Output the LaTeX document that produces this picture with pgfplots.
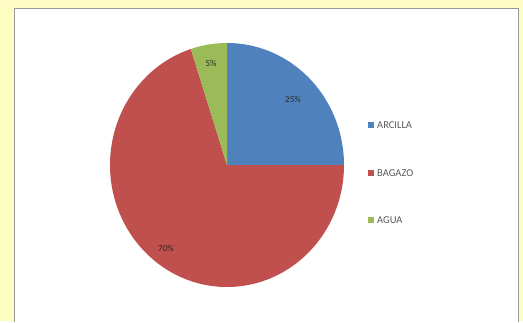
\documentclass[border=0pt]{standalone}
\usepackage{pgfplots}
\pgfplotsset{compat=1.18}
\usepackage{fontspec}
\setmainfont{Carlito}
\definecolor{bgyel}{HTML}{FDFCC2}
\definecolor{cblue}{HTML}{4F81BD}
\definecolor{cred}{HTML}{C0504D}
\definecolor{cgreen}{HTML}{9BBB59}
\definecolor{txt}{HTML}{595959}
\begin{document}
\begin{tikzpicture}[x=1pt,y=1pt]
\fill[bgyel] (0,0) rectangle (523,321);
\fill[white] (14,0) rectangle (518,313);
\draw[black!40, line width=0.7pt] (14,-1) -- (14,313) -- (518,313) -- (518,-1);
\begin{axis}[at={(0,0)}, anchor=south west, scale only axis,
  width=523pt, height=321pt, xmin=0, xmax=523, ymin=0, ymax=321,
  hide axis, clip=false]
% values: ARCILLA 25, BAGAZO 70, AGUA 5 (percent), clockwise from 90 deg
\fill[cblue]  (axis cs:227,156) -- ++(90:122pt) arc[start angle=90, end angle={90-25*3.6}, x radius=117pt, y radius=122pt] -- cycle;
\fill[cred]   (axis cs:227,156) -- ++(0:117pt) arc[start angle=0, end angle={0-70*3.6}, x radius=117pt, y radius=122pt] -- cycle;
\fill[cgreen] (axis cs:227,156) -- ({227+117*cos(108)},{156+122*sin(108)}) arc[start angle=108, end angle=90, x radius=117pt, y radius=122pt] -- cycle;
\node[font=\fontsize{9}{10}\selectfont, text=black!85] at (axis cs:293,222) {25\%};
\node[font=\fontsize{9}{10}\selectfont, text=black!85] at (axis cs:211,258) {5\%};
\node[font=\fontsize{9}{10}\selectfont, text=black!85] at (axis cs:166,73) {70\%};
\fill[cblue]  (axis cs:368,193) rectangle (axis cs:374,199);
\fill[cred]   (axis cs:368,145) rectangle (axis cs:374,151);
\fill[cgreen] (axis cs:368,98) rectangle (axis cs:374,104);
\node[anchor=west, font=\fontsize{10.5}{11}\selectfont, text=txt, inner sep=0pt] at (axis cs:377,196) {ARCILLA};
\node[anchor=west, font=\fontsize{10.5}{11}\selectfont, text=txt, inner sep=0pt] at (axis cs:377,148) {BAGAZO};
\node[anchor=west, font=\fontsize{10.5}{11}\selectfont, text=txt, inner sep=0pt] at (axis cs:377,101) {AGUA};
\end{axis}
\end{tikzpicture}
\end{document}
